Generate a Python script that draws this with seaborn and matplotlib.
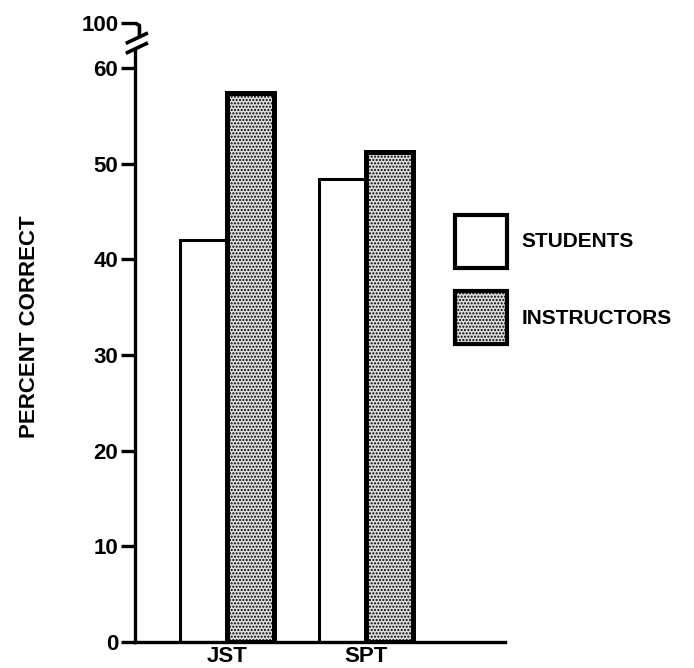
import pandas as pd
import numpy as np
import matplotlib.pyplot as plt
import seaborn as sns
from matplotlib.patches import Patch

sns.set_style('white')
plt.rcParams['font.family'] = ['Liberation Sans', 'DejaVu Sans']
plt.rcParams['font.weight'] = 'bold'
for key in ['text.color', 'axes.labelcolor', 'xtick.color', 'ytick.color', 'axes.edgecolor']:
    plt.rcParams[key] = 'black'

# values
tests = ['JST', 'SPT']
groups = ['STUDENTS', 'INSTRUCTORS']
students = [42.0, 48.4]
instructors = [57.4, 51.2]
ytick_values = [0, 10, 20, 30, 40, 50, 60, 100]

df = pd.DataFrame({
    'test': tests * 2,
    'group': [groups[0]] * len(tests) + [groups[1]] * len(tests),
    'percent': students + instructors,
})

# compressed section above 60 (axis break up to 100)
SQUEEZE = 0.1176


def fwd(y):
    y = np.asarray(y, dtype=float)
    return np.where(y <= 60, y, 60 + (y - 60) * SQUEEZE)


def inv(t):
    t = np.asarray(t, dtype=float)
    return np.where(t <= 60, t, 60 + (t - 60) / SQUEEZE)


fig = plt.figure(figsize=(6.94, 6.68), dpi=100)
ax = fig.add_axes([135 / 694, 1 - 642 / 668, 370 / 694, 619 / 668])

fill = {'STUDENTS': 'white', 'INSTRUCTORS': '#dcdcdc'}
sns.barplot(data=df, x='test', y='percent', hue='group', hue_order=groups,
            palette=fill, saturation=1, width=0.68, gap=0, legend=False, ax=ax)

# bars come in hue order: students first, then instructors
n = len(tests)
for i, p in enumerate(ax.patches):
    p.set_edgecolor('black')
    if i < n:
        p.set_linewidth(2.2)
    else:
        p.set_linewidth(3.6)
        p.set_hatch('.....')
        try:
            p.set_hatchcolor('#8a8a8a')
        except AttributeError:
            pass
    p.set_joinstyle('miter')

ax.set_yscale('function', functions=(fwd, inv))
ax.set_ylim(0, 100)
ax.set_xlim(-0.66, 2.0)
ax.set_yticks(ytick_values)
ax.set_yticklabels([str(v) for v in ytick_values])

for s in ['top', 'right']:
    ax.spines[s].set_visible(False)
ax.spines['left'].set_linewidth(2.4)
ax.spines['bottom'].set_linewidth(2.4)
ax.spines['left'].set_bounds(0, 76)

ax.tick_params(axis='y', length=10, width=2.4, direction='out', pad=2,
               labelsize=16, left=True)
ax.tick_params(axis='x', length=0, pad=3, labelsize=16)

ax.set_xlabel('')
ax.set_ylabel('PERCENT CORRECT', fontsize=16, fontweight='bold')
ax.yaxis.set_label_coords(-0.257, 0.51)

# axis break marks between 60 and 100
tr = ax.transAxes
kw = dict(color='black', lw=2.6, transform=tr, clip_on=False, solid_capstyle='butt')
ax.plot([-0.025, 0.035], [0.951, 0.968], **kw)
ax.plot([-0.025, 0.035], [0.967, 0.984], **kw)
ax.plot([0.0, 0.012, 0.012], [1.0, 0.996, 0.978], **kw)

handles = []
for g in groups:
    h = Patch(facecolor=fill[g], edgecolor='black', linewidth=3.0, label=g)
    if g == 'INSTRUCTORS':
        h.set_hatch('.....')
    handles.append(h)

fig.legend(handles=handles, loc='upper left', bbox_to_anchor=(455 / 694, 1 - 215 / 668),
           frameon=False, handlelength=2.5, handleheight=3.5,
           handletextpad=0.7, labelspacing=1.15, borderpad=0, borderaxespad=0,
           prop={'weight': 'bold', 'size': 15})

fig.savefig('out.png', dpi=100)
